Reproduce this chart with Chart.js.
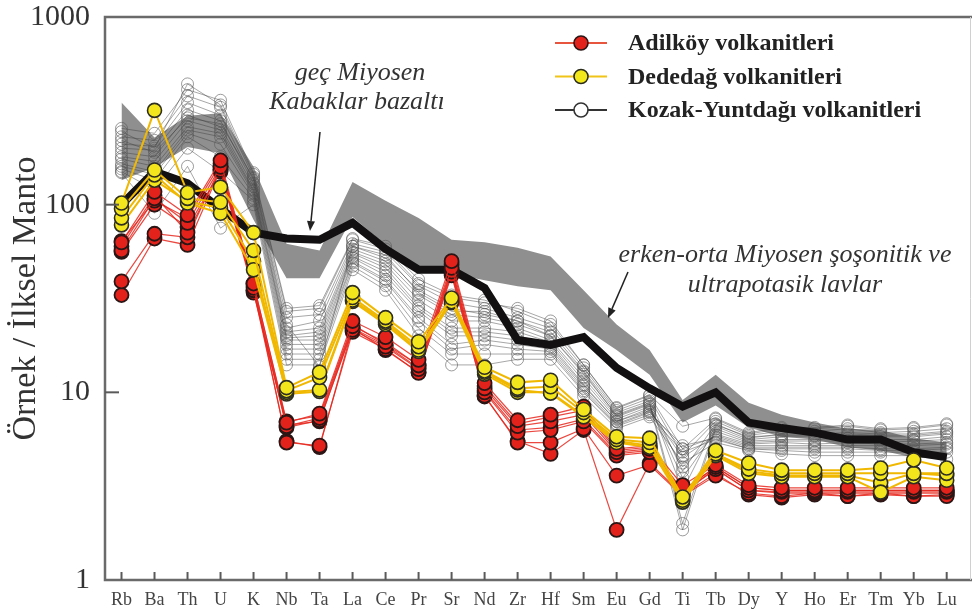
<!DOCTYPE html>
<html><head><meta charset="utf-8">
<script src="https://cdn.jsdelivr.net/npm/chart.js@4.4.1/dist/chart.umd.min.js"></script>
<style>html,body{margin:0;padding:0;background:#fff}#wrap{width:972px;height:611px;position:relative}</style>
</head><body><div id="wrap"><canvas id="c" width="972" height="611"></canvas></div>
<script>
// Categories (normalised to primitive mantle)
const elements = ['Rb','Ba','Th','U','K','Nb','Ta','La','Ce','Pr','Sr','Nd','Zr','Hf','Sm','Eu','Gd','Ti','Tb','Dy','Y','Ho','Er','Tm','Yb','Lu'];
const yTickValues = [1, 10, 100, 1000];

// Grey field: erken-orta Miyosen şoşonitik ve ultrapotasik lavlar
const bandUpper = [350, 228, 298, 307, 159, 62, 57, 132, 105, 85, 65, 63, 59, 53, 35, 23, 16.8, 9.1, 12.4, 8.8, 7.6, 6.9, 6.4, 6.3, 5.7, 5.4];
const bandLower = [135, 158, 203, 188, 83, 40.6, 40.6, 86, 61, 44.7, 43, 39.6, 36.7, 35, 22, 16.8, 12.4, 6.9, 8.5, 6.5, 5.8, 5.6, 5.1, 4.9, 4.5, 4.4];

// geç Miyosen Kabaklar bazaltı
const kabaklar = [100, 150, 130, 95, 71, 66, 65, 80, 58, 45, 45, 36, 19, 17.9, 19.7, 13.5, 10.5, 8.4, 10, 6.9, 6.45, 6.1, 5.6, 5.6, 4.8, 4.5];

// Kozak-Yuntdağı volkanitleri
const kozak = [
  [255, 240, 410, 360, 148, 28, 29, 66, 60, 40, 33, 31, 27, 23, 14, 8.2, 9.6, 5.0, 7.2, 6.0, 6.4, 6.4, 6.6, 6.3, 6.4, 6.7],
  [230, 220, 380, 330, 140, 25, 26, 62, 56, 37, 30, 28, 25, 22, 13.5, 8.0, 9.3, 4.6, 7.0, 5.9, 6.2, 6.2, 6.4, 6.1, 6.2, 6.4],
  [210, 205, 350, 300, 135, 22, 24, 60, 52, 35, 28, 26, 24, 21, 13, 7.8, 9.0, 3.8, 6.8, 5.7, 6.0, 6.0, 6.1, 6.0, 6.0, 6.2],
  [200, 195, 320, 280, 130, 21, 22, 58, 50, 33, 26, 25, 23, 20, 12.5, 7.6, 8.8, 2.0, 6.6, 5.6, 5.8, 5.8, 5.9, 5.8, 5.8, 6.0],
  [190, 180, 300, 260, 125, 20, 21, 56, 48, 31, 24, 24, 22, 19, 12, 7.4, 8.6, 1.85, 6.4, 5.5, 5.6, 5.6, 5.7, 5.6, 5.6, 5.8],
  [180, 170, 280, 250, 120, 19.5, 20, 55, 46, 29, 22, 22, 21, 18.5, 11.5, 7.2, 8.4, 3.5, 6.2, 5.4, 5.5, 5.5, 5.5, 5.4, 5.5, 5.6],
  [175, 160, 260, 240, 118, 19, 19, 53, 44, 28, 21, 21, 20, 18, 11, 7.0, 8.2, 4.0, 6.0, 5.3, 5.4, 5.3, 5.4, 5.3, 5.3, 5.4],
  [165, 150, 250, 230, 115, 18, 18, 52, 42, 27, 20, 20, 19, 17.5, 10.8, 7.0, 8.0, 4.5, 5.9, 5.2, 5.2, 5.2, 5.2, 5.2, 5.2, 5.3],
  [160, 145, 240, 210, 112, 17, 17, 50, 40, 25, 18, 19, 18, 17, 10.5, 6.8, 7.9, 5.0, 5.8, 5.1, 5.1, 5.1, 5.1, 5.0, 5.0, 5.1],
  [155, 135, 230, 180, 108, 16, 16, 49, 39, 24, 17, 18, 17, 16.5, 10.2, 6.7, 7.8, 5.2, 5.7, 5.0, 5.0, 5.0, 5.0, 4.9, 4.9, 5.0],
  [150, 120, 200, 150, 105, 15, 15, 47, 37, 22, 16, 16, 16, 16, 10, 6.6, 7.6, 4.8, 5.6, 5.0, 4.9, 4.8, 4.8, 4.8, 4.8, 4.8],
  [148, 90, 160, 75, 100, 14, 14, 45, 35, 20, 14, 14, 15, 15, 9.5, 6.4, 7.4, 4.2, 5.4, 4.9, 4.7, 4.6, 4.6, 4.6, 4.6, 4.4],
  [245, 200, 440, 340, 145, 27, 28, 65, 58, 38, 32, 30, 28, 24, 14, 8.3, 9.7, 6.6, 7.3, 6.1, 6.5, 6.5, 6.7, 6.4, 6.5, 6.8],
  [220, 190, 290, 270, 138, 23, 13.7, 60, 54, 34, 27, 27, 24, 20, 12.8, 7.5, 8.7, 3.0, 6.7, 5.8, 5.9, 5.9, 6.0, 5.9, 5.9, 6.1]
];

// Adilköy volkanitleri
const adilkoy = [
  [63, 117, 88, 172, 38, 6.9, 7.7, 24, 19.7, 14.9, 50, 11.2, 7.1, 7.6, 8.4, 5.0, 5.2, 3.2, 4.1, 3.2, 3.1, 3.1, 3.1, 3.1, 3.1, 3.1],
  [57, 108, 80, 159, 36, 6.6, 7.3, 22.5, 18.5, 13.9, 46, 10.5, 6.6, 7.0, 7.6, 4.8, 5.0, 3.0, 4.0, 3.1, 3.0, 3.0, 3.0, 3.0, 3.0, 3.0],
  [60, 112, 71, 153, 35, 6.5, 7.1, 21.5, 17.5, 13.3, 44, 10.0, 6.1, 6.3, 7.0, 4.6, 4.8, 2.9, 3.9, 3.0, 2.95, 2.95, 2.95, 2.95, 2.95, 2.95],
  [39, 70, 67, 160, 37, 5.4, 5.2, 21, 17, 12.7, 42, 9.6, 5.4, 5.4, 6.4, 3.6, 4.1, 2.8, 3.6, 2.9, 2.8, 2.9, 2.8, 2.9, 2.8, 2.8],
  [33, 66, 61, 155, 35, 5.5, 5.1, 22, 16.8, 12.8, 43, 9.5, 5.5, 4.7, 6.3, 1.85, 4.2, 2.85, 3.7, 2.85, 2.75, 2.85, 2.8, 2.85, 2.8, 2.85],
  [64, 105, 85, 165, 38, 7.0, 7.5, 23, 18, 14, 48, 10.8, 6.8, 7.4, 8.0, 4.9, 5.1, 3.0, 4.0, 3.1, 3.0, 3.0, 3.0, 3.0, 3.0, 3.0],
  [56, 100, 76, 150, 34, 6.7, 7.0, 22, 17.8, 13.5, 45, 10.2, 6.3, 6.5, 7.2, 4.7, 4.9, 2.95, 3.9, 3.0, 2.9, 2.9, 2.9, 2.9, 2.9, 2.9]
];

// Dededağ volkanitleri
const dededag = [
  [102, 318, 116, 124, 71, 10.6, 12.8, 34, 25, 18.6, 31.8, 13.6, 11.3, 11.6, 8.1, 5.8, 5.7, 2.77, 4.9, 4.2, 3.85, 3.85, 3.85, 3.95, 4.36, 3.95],
  [95, 153, 108, 103, 57, 10.2, 12.0, 32, 24, 17.5, 30.4, 13, 10.5, 10.7, 7.8, 5.6, 5.4, 2.66, 4.7, 3.9, 3.7, 3.7, 3.7, 3.7, 3.7, 3.7],
  [85, 144, 102, 90, 45, 10.0, 10.3, 31, 23.6, 16.8, 31, 12.8, 10.3, 9.9, 7.4, 5.4, 5.1, 2.6, 4.6, 3.7, 3.55, 3.55, 3.55, 2.94, 3.55, 3.4],
  [78, 135, 104, 96, 50, 9.8, 10.1, 30.5, 23, 16.5, 30, 12.5, 10, 10, 7.5, 5.5, 5.2, 2.7, 4.7, 3.8, 3.6, 3.6, 3.6, 3.3, 3.7, 3.6]
];

const legendItems = [
  {label: 'Adilköy volkanitleri', line: '#e8553f', fill: '#e3221b', border: '#2b1616'},
  {label: 'Dededağ volkanitleri', line: '#f0c419', fill: '#f2e81a', border: '#2b2b1a'},
  {label: 'Kozak-Yuntdağı volkanitleri', line: '#333333', fill: '#ffffff', border: '#333333'}
];

const datasets = [];
dededag.forEach(v => datasets.push({data: v, borderColor: '#f0b800', borderWidth: 2, pointRadius: 7, pointBackgroundColor: '#f3e61c', pointBorderColor: '#2e2e22', pointBorderWidth: 1.6, tension: 0, fill: false}));
adilkoy.forEach(v => datasets.push({data: v, borderColor: 'rgba(230,40,30,0.85)', borderWidth: 1.2, pointRadius: 7, pointBackgroundColor: '#e3221b', pointBorderColor: '#2b1616', pointBorderWidth: 1.8, tension: 0, fill: false}));
datasets.push({data: kabaklar, borderColor: '#121010', borderWidth: 8, pointRadius: 0, tension: 0, fill: false, borderJoinStyle: 'miter'});
kozak.forEach(v => datasets.push({data: v, borderColor: 'rgba(60,60,60,0.45)', borderWidth: 1, pointRadius: 6, pointBackgroundColor: 'rgba(255,255,255,0)', pointBorderColor: 'rgba(90,90,90,0.6)', pointBorderWidth: 1, tension: 0, fill: false}));
datasets.push({data: bandUpper, borderColor: 'rgba(0,0,0,0)', borderWidth: 0, pointRadius: 0, tension: 0, fill: '+1', backgroundColor: '#8f8f8f'});
datasets.push({data: bandLower, borderColor: 'rgba(0,0,0,0)', borderWidth: 0, pointRadius: 0, tension: 0, fill: false});

const decor = {
  id: 'decor',
  afterDraw(chart) {
    const ctx = chart.ctx, a = chart.chartArea, xs = chart.scales.x, ys = chart.scales.y;
    ctx.save();
    // frame
    ctx.strokeStyle = '#6a6a6a'; ctx.lineWidth = 2.5; ctx.lineCap = 'butt';
    ctx.beginPath();
    ctx.moveTo(972, a.top); ctx.lineTo(a.left, a.top); ctx.lineTo(a.left, a.bottom); ctx.lineTo(972, a.bottom);
    ctx.stroke();
    ctx.strokeStyle = '#d0d0d0'; ctx.lineWidth = 1;
    ctx.beginPath(); ctx.moveTo(970.5, a.top); ctx.lineTo(970.5, a.bottom); ctx.stroke();
    // inward ticks
    ctx.strokeStyle = '#5a5a5a'; ctx.lineWidth = 2;
    [10, 100].forEach(v => { const y = ys.getPixelForValue(v); ctx.beginPath(); ctx.moveTo(a.left, y); ctx.lineTo(a.left + 14, y); ctx.stroke(); });
    elements.forEach((e, i) => { const x = xs.getPixelForValue(i); ctx.beginPath(); ctx.moveTo(x, a.bottom); ctx.lineTo(x, a.bottom - 8); ctx.stroke(); });
    // legend
    legendItems.forEach((it, i) => {
      const y = 43 + i * 33.5;
      ctx.strokeStyle = it.line; ctx.lineWidth = 2;
      ctx.beginPath(); ctx.moveTo(555, y); ctx.lineTo(607, y); ctx.stroke();
      ctx.beginPath(); ctx.arc(581, y, 7, 0, Math.PI * 2);
      ctx.fillStyle = it.fill; ctx.fill();
      ctx.strokeStyle = it.border; ctx.lineWidth = 1.6; ctx.stroke();
      ctx.fillStyle = '#222'; ctx.font = 'bold 24px "Liberation Serif"';
      ctx.textAlign = 'left'; ctx.textBaseline = 'middle';
      ctx.fillText(it.label, 628, y + 1);
    });
    // annotations
    ctx.fillStyle = '#333'; ctx.font = 'italic 26px "Liberation Serif"'; ctx.textAlign = 'center'; ctx.textBaseline = 'middle';
    ctx.fillText('geç Miyosen', 360, 73);
    ctx.fillText('Kabaklar bazaltı', 357, 102);
    ctx.fillText('erken-orta Miyosen şoşonitik ve', 785, 255);
    ctx.fillText('ultrapotasik lavlar', 785, 285);
    const arrow = (x1, y1, x2, y2) => {
      ctx.strokeStyle = '#222'; ctx.fillStyle = '#222'; ctx.lineWidth = 1.5;
      const ang = Math.atan2(y2 - y1, x2 - x1), L = 10, W = 4;
      const bx = x2 - L * Math.cos(ang), by = y2 - L * Math.sin(ang);
      ctx.beginPath(); ctx.moveTo(x1, y1); ctx.lineTo(bx, by); ctx.stroke();
      ctx.beginPath(); ctx.moveTo(x2, y2);
      ctx.lineTo(bx + W * Math.sin(ang), by - W * Math.cos(ang));
      ctx.lineTo(bx - W * Math.sin(ang), by + W * Math.cos(ang));
      ctx.closePath(); ctx.fill();
    };
    arrow(320, 132, 310, 231);
    arrow(628, 272, 608, 318);
    ctx.restore();
  }
};

new Chart(document.getElementById('c'), {
  type: 'line',
  data: {labels: elements, datasets: datasets},
  options: {
    responsive: false, animation: false, devicePixelRatio: 1,
    layout: {padding: {top: 17, right: 0, left: 0, bottom: 0}},
    plugins: {legend: {display: false}, tooltip: {enabled: false}, filler: {propagate: false}},
    scales: {
      x: {
        type: 'category', offset: true,
        grid: {display: false, drawTicks: false}, border: {display: false},
        ticks: {autoSkip: false, maxRotation: 0, padding: 9, color: '#444', font: {family: 'Liberation Serif', size: 18}},
        afterFit: s => { s.height = 31; s.paddingLeft = 0; s.paddingRight = 0; }
      },
      y: {
        type: 'logarithmic', min: 1, max: 1000,
        grid: {display: false, drawTicks: false}, border: {display: false},
        afterBuildTicks: s => { s.ticks = yTickValues.map(v => ({value: v})); },
        ticks: {padding: 15, color: '#333', font: {family: 'Liberation Serif', size: 30}, callback: v => String(v)},
        title: {display: true, text: 'Örnek / İlksel Manto', color: '#333', font: {family: 'Liberation Serif', size: 34}, padding: {top: 6, bottom: 0}},
        afterFit: s => { s.width = 105; s.paddingTop = 0; s.paddingBottom = 0; }
      }
    }
  },
  plugins: [decor]
});
</script></body></html>
